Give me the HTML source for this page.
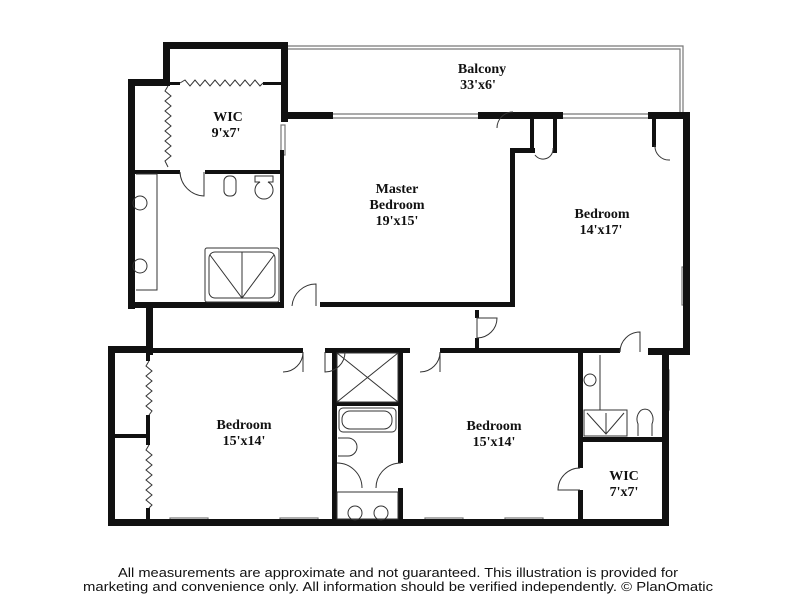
<!DOCTYPE html>
<html><head><style>
html,body{margin:0;padding:0;background:#fff;width:799px;height:599px;overflow:hidden}
svg text{font-family:"Liberation Serif",serif;font-weight:bold;fill:#111}
</style></head><body>
<svg width="799" height="599" viewBox="0 0 799 599" xmlns="http://www.w3.org/2000/svg">
<g fill="none" stroke="#777" stroke-width="1.2">
<path d="M286 46 H683 V116"/><path d="M286 49 H680 V116"/>
<path d="M333 114 H478 M333 118 H478 M563 114 H648 M563 118 H648"/>
<rect x="682" y="267" width="6" height="38"/><rect x="663" y="370" width="6" height="40"/>
<rect x="281" y="125" width="4" height="30"/>
<rect x="170" y="518" width="38" height="7"/><rect x="280" y="518" width="38" height="7"/>
<rect x="425" y="518" width="38" height="7"/><rect x="505" y="518" width="38" height="7"/>
<path d="M170 521.5 H208 M280 521.5 H318 M425 521.5 H463 M505 521.5 H543"/>
</g>
<g fill="#111">
<rect x="163" y="42" width="125" height="7"/>
<rect x="163" y="42" width="7" height="40"/>
<rect x="281" y="42" width="7" height="80"/>
<rect x="281" y="112" width="52" height="7"/>
<rect x="478" y="112" width="85" height="7"/>
<rect x="648" y="112" width="40" height="7"/>
<rect x="683" y="112" width="7" height="243"/>
<rect x="128" y="79" width="42" height="7"/>
<rect x="128" y="79" width="7" height="230"/>
<rect x="128" y="302" width="155" height="6"/>
<rect x="280" y="150" width="4" height="158"/>
<rect x="135" y="170" width="45" height="4"/><rect x="205" y="170" width="78" height="4"/>
<rect x="170" y="82" width="10" height="3"/><rect x="263" y="82" width="20" height="3"/>
<rect x="320" y="302" width="195" height="5"/>
<rect x="510" y="150" width="5" height="157"/>
<rect x="510" y="148" width="25" height="5"/>
<rect x="530" y="117" width="4" height="36"/><rect x="553" y="117" width="4" height="36"/>
<rect x="652" y="117" width="4" height="30"/>
<rect x="146" y="305" width="7" height="50"/>
<rect x="475" y="310" width="4" height="8"/><rect x="475" y="338" width="4" height="14"/>
<rect x="108" y="346" width="45" height="7"/>
<rect x="153" y="348" width="150" height="5"/>
<rect x="325" y="348" width="85" height="5"/>
<rect x="440" y="348" width="180" height="5"/>
<rect x="648" y="348" width="42" height="7"/>
<rect x="108" y="346" width="7" height="180"/>
<rect x="108" y="519" width="477" height="7"/>
<rect x="115" y="434" width="33" height="4"/>
<rect x="146" y="353" width="4" height="8"/><rect x="146" y="415" width="4" height="30"/><rect x="146" y="508" width="4" height="12"/>
<rect x="332" y="348" width="5" height="175"/>
<rect x="398" y="348" width="5" height="115"/>
<rect x="398" y="488" width="5" height="35"/>
<rect x="337" y="402" width="61" height="4"/>
<rect x="578" y="348" width="5" height="120"/>
<rect x="578" y="490" width="5" height="36"/>
<rect x="580" y="437" width="87" height="5"/>
<rect x="578" y="519" width="89" height="7"/>
<rect x="662" y="348" width="7" height="178"/>
</g>
<g fill="none" stroke="#333" stroke-width="1">
<path d="M180 83 L185 80 L190 86 L195 80 L200 86 L205 80 L210 86 L215 80 L220 86 L225 80 L230 86 L235 80 L240 86 L245 80 L250 86 L255 80 L260 86 L263 83"/>
<path d="M168 86 L165 91 L171 96 L165 101 L171 106 L165 111 L171 116 L165 121 L171 126 L165 131 L171 136 L165 141 L171 146 L165 151 L171 156 L165 161 L168 167"/>
<path d="M149 361 L146 366 L152 371 L146 376 L152 381 L146 386 L152 391 L146 396 L152 401 L146 406 L152 411 L149 415"/>
<path d="M149 445 L146 450 L152 455 L146 460 L152 465 L146 470 L152 475 L146 480 L152 485 L146 490 L152 495 L146 500 L152 505 L149 508"/>
<path d="M180 172 A25 25 0 0 0 204 196 V172"/>
<path d="M292 306 A24 24 0 0 1 316 284 V306"/>
<path d="M477 318 V338 A20 20 0 0 0 497 318 Z"/>
<path d="M303 352 A20 20 0 0 1 283 372 M303 352 V372"/>
<path d="M325 352 V372 A20 20 0 0 0 345 352"/>
<path d="M440 352 A20 20 0 0 1 420 372 M440 352 V372"/>
<path d="M620 352 A20 20 0 0 1 640 332 V352"/>
<path d="M401 463 A25 25 0 0 0 376 488 M337 463 A25 25 0 0 1 362 488"/>
<path d="M580 468 A22 22 0 0 0 558 490 H580"/>
<path d="M497 128 A16 16 0 0 1 513 112 M535 155 A10 10 0 0 0 553 148 M655 145 A14 14 0 0 0 670 160"/>
<path d="M136 174 H157 V290 H136"/>
<rect x="205" y="248" width="74" height="54" rx="2"/><rect x="209" y="252" width="66" height="46" rx="6"/>
<path d="M210 255 L242 298 L274 255 M242 252 V298"/>
<rect x="337" y="353" width="61" height="49"/><path d="M337 353 L398 402 M398 353 L337 402"/>
<rect x="339" y="408" width="57" height="24" rx="4"/><rect x="342" y="411" width="50" height="18" rx="8"/>
<path d="M338 438 H348 A9 9 0 0 1 348 456 H338"/>
<rect x="337" y="492" width="61" height="27"/>
<circle cx="355" cy="513" r="7"/><circle cx="381" cy="513" r="7"/>
<rect x="224" y="176" width="12" height="20" rx="5"/>
<path d="M255 176 H273 V182 H268 A9 9 0 1 1 260 182 H255 Z"/>
<circle cx="140" cy="203" r="7"/><circle cx="140" cy="266" r="7"/>
<path d="M600 355 V410"/><rect x="584" y="410" width="43" height="26"/><path d="M587 413 L606 434 L624 413 M606 413 V434"/>
<path d="M638 436 V424 A8 10 0 1 1 652 424 V436"/>
<circle cx="590" cy="380" r="6"/>
</g>
<g font-size="14" text-anchor="middle">
<text x="482" y="73">Balcony</text><text x="478" y="89">33'x6'</text>
<text x="228" y="121">WIC</text><text x="226" y="137">9'x7'</text>
<text x="397" y="193">Master</text><text x="397" y="209">Bedroom</text><text x="397" y="225">19'x15'</text>
<text x="602" y="218">Bedroom</text><text x="601" y="234">14'x17'</text>
<text x="244" y="429">Bedroom</text><text x="244" y="445">15'x14'</text>
<text x="494" y="430">Bedroom</text><text x="494" y="446">15'x14'</text>
<text x="624" y="480">WIC</text><text x="624" y="496">7'x7'</text>
</g>
<g font-size="13" fill="#111" text-anchor="middle">
<text x="398" y="577" textLength="560" lengthAdjust="spacingAndGlyphs" style="font-family:'Liberation Sans',sans-serif;font-weight:normal">All measurements are approximate and not guaranteed. This illustration is provided for</text>
<text x="398" y="591" textLength="630" lengthAdjust="spacingAndGlyphs" style="font-family:'Liberation Sans',sans-serif;font-weight:normal">marketing and convenience only. All information should be verified independently. © PlanOmatic</text>
</g>
</svg>
</body></html>
